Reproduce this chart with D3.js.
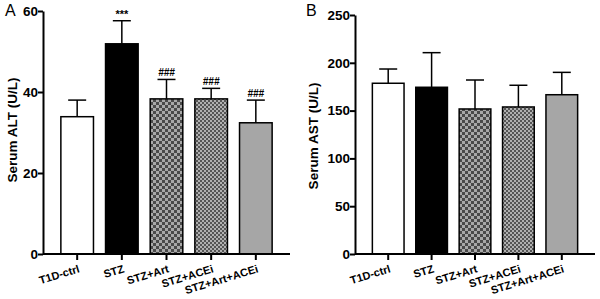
<!DOCTYPE html>
<html><head><meta charset="utf-8">
<script src="https://cdn.jsdelivr.net/npm/d3@7"></script>
<style>body{margin:0;background:#fff}svg{display:block}text{font-family:"Liberation Sans",Arial,sans-serif}</style>
</head><body>
<svg id="c" width="600" height="299"></svg>
<script>
const groups = ["T1D-ctrl","STZ","STZ+Art","STZ+ACEi","STZ+Art+ACEi"];
const altMean = [33.9, 51.9, 38.3, 38.3, 32.4];
const altErr  = [4.1, 5.7, 4.8, 2.6, 5.6];
const altMarks = ["", "***", "###", "###", "###"];
const altTicks = [0, 20, 40, 60];
const astMean = [178.6, 174.4, 151.7, 153.8, 166.6];
const astErr  = [14.9, 36.2, 30.3, 22.7, 23.4];
const astMarks = ["", "", "", "", ""];
const astTicks = [0, 50, 100, 150, 200, 250];
const fills = ["#ffffff", "#000000", "url(#chk)", "url(#dots)", "#a6a6a6"];

const svg = d3.select("#c");
const defs = svg.append("defs");
const p1 = defs.append("pattern").attr("id","chk").attr("patternUnits","userSpaceOnUse").attr("width",6).attr("height",6);
p1.append("rect").attr("width",6).attr("height",6).attr("fill","#a8a8a8");
p1.append("rect").attr("width",3).attr("height",3).attr("fill","#4a4a4a");
p1.append("rect").attr("x",3).attr("y",3).attr("width",3).attr("height",3).attr("fill","#4a4a4a");
const p2 = defs.append("pattern").attr("id","dots").attr("patternUnits","userSpaceOnUse").attr("width",4).attr("height",4);
p2.append("rect").attr("width",4).attr("height",4).attr("fill","#b0b0b0");
p2.append("rect").attr("width",2).attr("height",2).attr("fill","#555");
p2.append("rect").attr("x",2).attr("y",2).attr("width",2).attr("height",2).attr("fill","#555");

function panel(cfg){
  const g = svg.append("g");
  const y = d3.scaleLinear().domain([0, cfg.max]).range([254, cfg.top]);
  const x = d3.scaleBand().domain(groups).range([cfg.x0, cfg.x1]).paddingInner(0.27).paddingOuter(0.4);
  const ya = g.append("g").attr("transform",`translate(${cfg.x0},0)`)
    .call(d3.axisLeft(y).tickValues(cfg.ticks).tickSize(5).tickSizeOuter(0));
  ya.select(".domain").attr("stroke-width",2);
  ya.selectAll(".tick line").attr("stroke-width",2);
  ya.selectAll("text").attr("font-size",13.5).attr("font-weight","bold").attr("x",-5);
  const bw = x.bandwidth();
  g.selectAll(".bar").data(groups).join("rect")
    .attr("x", d=>x(d)).attr("width", bw)
    .attr("y", (d,i)=>y(cfg.mean[i])).attr("height", (d,i)=>y(0)-y(cfg.mean[i]))
    .attr("fill", (d,i)=>fills[i]).attr("stroke","#000").attr("stroke-width",1.5);
  g.selectAll(".ev").data(groups).join("line")
    .attr("x1", d=>x(d)+bw/2).attr("x2", d=>x(d)+bw/2)
    .attr("y1", (d,i)=>y(cfg.mean[i])).attr("y2", (d,i)=>y(cfg.mean[i]+cfg.err[i]))
    .attr("stroke","#000").attr("stroke-width",1.5);
  g.selectAll(".ec").data(groups).join("line")
    .attr("x1", d=>x(d)+bw/2-9).attr("x2", d=>x(d)+bw/2+9)
    .attr("y1", (d,i)=>y(cfg.mean[i]+cfg.err[i])).attr("y2", (d,i)=>y(cfg.mean[i]+cfg.err[i]))
    .attr("stroke","#000").attr("stroke-width",1.5);
  g.selectAll(".mk").data(groups).join("text")
    .attr("x", d=>x(d)+bw/2).attr("y", (d,i)=>y(cfg.mean[i]+cfg.err[i])-3)
    .attr("text-anchor","middle").attr("font-size", (d,i)=>cfg.marks[i]==="***"?11:10).attr("font-weight","bold")
    .attr("font-style", (d,i)=>cfg.marks[i]==="***"?"normal":"italic")
    .text((d,i)=>cfg.marks[i]);
  const xa = g.append("g").attr("transform","translate(0,254)")
    .call(d3.axisBottom(x).tickSize(6).tickSizeOuter(0));
  xa.select(".domain").attr("stroke-width",2).attr("d",`M${cfg.x0},0H${cfg.x1}`);
  xa.selectAll(".tick line").attr("stroke-width",2);
  xa.selectAll("text").attr("font-size",11).attr("font-weight","bold")
    .attr("text-anchor","end").attr("dy",0).attr("y",0)
    .attr("transform","translate(3,18) rotate(-17)");
  g.append("text").attr("transform",`translate(${cfg.tx},${cfg.ty}) rotate(-90)`)
    .attr("text-anchor","middle").attr("dy","0.35em").attr("font-size",13.5).attr("font-weight","bold").text(cfg.title);
  g.append("text").attr("x",cfg.lx).attr("y",16).attr("font-size",16).text(cfg.letter);
}
panel({x0:43, x1:290, top:11, max:60, ticks:altTicks, mean:altMean, err:altErr, marks:altMarks, title:"Serum ALT (U/L)", letter:"A", tx:12, ty:130, lx:5});
panel({x0:355, x1:595, top:15, max:250, ticks:astTicks, mean:astMean, err:astErr, marks:astMarks, title:"Serum AST (U/L)", letter:"B", tx:313, ty:136, lx:306});
</script>
</body></html>
